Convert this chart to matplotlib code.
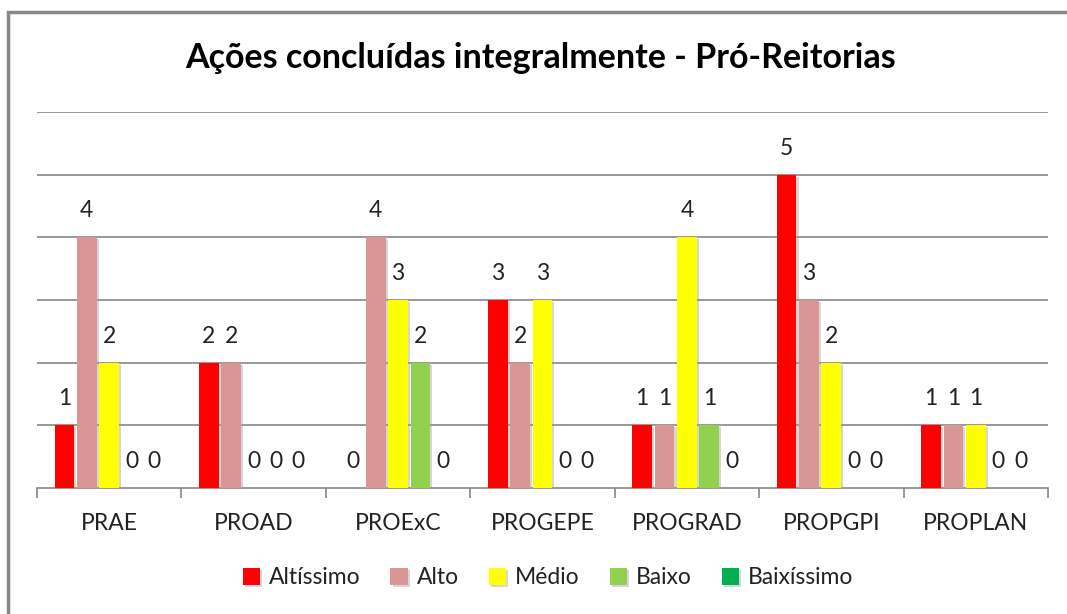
import matplotlib
matplotlib.use("Agg")
import matplotlib.pyplot as plt
import matplotlib.patheffects as pe
from matplotlib.patches import Rectangle
import numpy as np

plt.rcParams['font.family'] = ['Lato', 'DejaVu Sans']

# data
categories = ['PRAE', 'PROAD', 'PROExC', 'PROGEPE', 'PROGRAD', 'PROPGPI', 'PROPLAN']
series_names = ['Altíssimo', 'Alto', 'Médio', 'Baixo', 'Baixíssimo']
altissimo = [1, 2, 0, 3, 1, 5, 1]
alto = [4, 2, 4, 2, 1, 3, 1]
medio = [2, 0, 3, 3, 4, 2, 1]
baixo = [0, 0, 2, 0, 1, 0, 0]
baixissimo = [0, 0, 0, 0, 0, 0, 0]
colors = ['#FF0000', '#D99694', '#FFFF00', '#92D050', '#00B050']

all_series = [altissimo, alto, medio, baixo, baixissimo]

fig = plt.figure(figsize=(10.67, 6.14), dpi=100)
ax = fig.add_axes([37 / 1067, 126 / 614, (1048 - 37) / 1067, (488 - 112) / 614])

x = np.arange(len(categories))
step = 0.155
width = 0.137
shadow = [pe.SimplePatchShadow(offset=(1.5, -1.5), shadow_rgbFace='#999999', alpha=0.4), pe.Normal()]

for i, (vals, name, col) in enumerate(zip(all_series, series_names, colors)):
    pos = x + (i - 2) * step
    bars = ax.bar(pos, vals, width, color=col, label=name, zorder=3)
    for b in bars:
        b.set_path_effects(shadow)
    for px, v in zip(pos, vals):
        ax.annotate(str(v), (px, v), xytext=(0, 19), textcoords='offset points',
                    ha='center', va='center', fontsize=16.5, color='#222222')

ax.set_xlim(-0.5, len(categories) - 0.5)
ax.set_ylim(0, 6)
ax.set_yticks(range(1, 7))
ax.yaxis.grid(True, color='#868686', lw=1.2, zorder=0)
ax.tick_params(axis='y', left=False, labelleft=False)

ax.set_xticks(x)
ax.set_xticklabels(categories, fontsize=16.5, color='#222222')
ax.set_xticks(np.arange(-0.5, len(categories)), minor=True)
ax.tick_params(axis='x', which='major', length=0, pad=18)
ax.tick_params(axis='x', which='minor', length=7, width=1.2, color='#868686', direction='out')

for s in ['top', 'right', 'left']:
    ax.spines[s].set_visible(False)
ax.spines['bottom'].set_color('#868686')
ax.spines['bottom'].set_linewidth(1.2)

fig.text(541 / 1067, 1 - 58 / 614, 'Ações concluídas integralmente - Pró-Reitorias',
         ha='center', va='center', fontsize=24.5, fontweight='bold', color='black')

fig.legend(loc='center', bbox_to_anchor=(548 / 1067, 1 - 578 / 614), ncol=5, frameon=False,
           fontsize=16.5, handlelength=0.75, handleheight=0.75, handletextpad=0.4,
           columnspacing=1.3, labelcolor='#222222')

# chart border
fig.add_artist(Rectangle((8 / 1067, -0.1), 1.2, 0.1 + (614 - 12) / 614, transform=fig.transFigure,
                         fill=False, edgecolor='#888888', lw=2.5))

fig.savefig('out.png', dpi=100)
